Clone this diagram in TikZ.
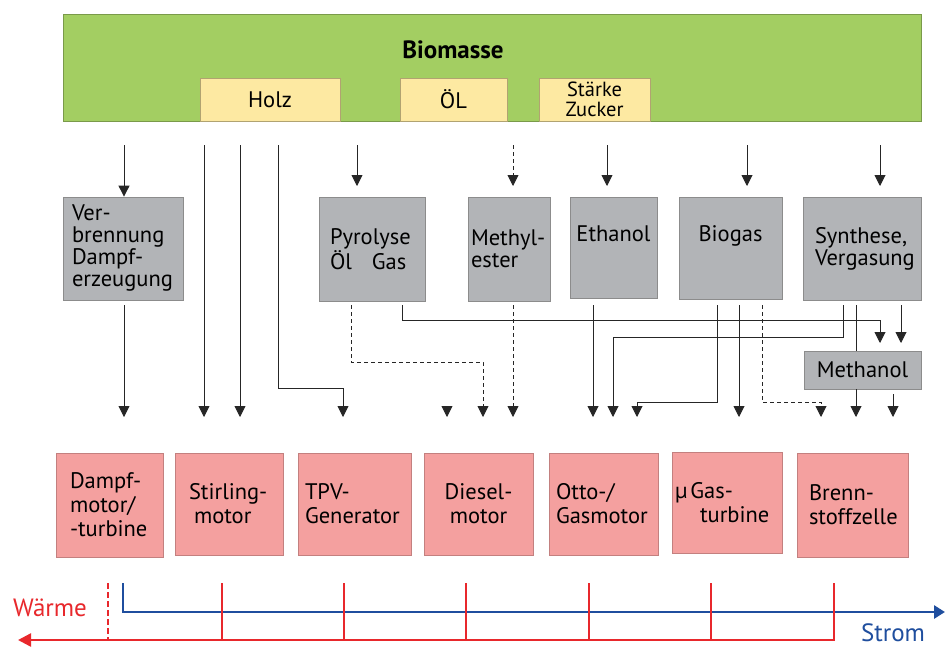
\documentclass[tikz,border=0pt]{standalone}
\usepackage{fontspec}
\setmainfont{PT Sans}
\usetikzlibrary{arrows.meta}
\definecolor{bgreen}{HTML}{A3CE62}
\definecolor{byellow}{HTML}{FDE9A2}
\definecolor{bgray}{HTML}{B2B4B7}
\definecolor{bpink}{HTML}{F4A09F}
\definecolor{bred}{HTML}{E8282C}
\definecolor{bblue}{HTML}{1F4E9E}
\begin{document}
\begin{tikzpicture}[x=1pt,y=-1pt,
  every node/.style={inner sep=0pt, font=\fontsize{22.5}{22}\selectfont},
  grbox/.style={draw=bgreen!75!black, fill=bgreen, line width=0.7pt},
  yebox/.style={draw=byellow!70!black, fill=byellow, line width=0.7pt},
  gybox/.style={draw=black!45, fill=bgray, line width=0.8pt},
  pkbox/.style={draw=bpink!80!black, fill=bpink, line width=0.7pt, font=\fontsize{22.5}{24}\selectfont},
  ln/.style={line width=0.9pt, draw=black!85},
  arr/.style={ln, -{Triangle[width=11pt,length=11pt]}},
  dsh/.style={dash pattern=on 4pt off 3pt},
  redl/.style={draw=bred, line width=2.4pt},
  bluel/.style={draw=bblue, line width=2.8pt},
  lbl/.style={font=\fontsize{25}{25}\selectfont}
]
\useasboundingbox (0,0) rectangle (945,649);
\fill[white] (0,0) rectangle (945,649);

% Biomasse
\node[grbox, minimum width=858pt, minimum height=107pt] (bio) at (492,67.5) {};
\node[font=\fontsize{25}{25}\selectfont\bfseries] (biot) at (453,50) {Biomasse};
\node[yebox, minimum width=140pt, minimum height=43pt] (holz) at (270,99.5) {Holz};
\node[yebox, minimum width=107pt, minimum height=43pt] (oel) at (453.5,99.5) {ÖL};
\node[yebox, minimum width=111pt, minimum height=43pt, align=center, font=\fontsize{20.5}{20}\selectfont] (staerke) at (594.5,99.5) {Stärke\\Zucker};

% gray boxes
\node[gybox, minimum width=120pt, minimum height=103pt, text width=102pt, align=left] (verb) at (123,248.5) {Ver-\\brennung\\Dampf-\\erzeugung};
\node[gybox, minimum width=106pt, minimum height=104pt, text width=84pt, align=left] (pyro) at (372,249) {Pyrolyse\\Öl\hspace{20pt}Gas};
\node[gybox, minimum width=82pt, minimum height=104pt, text width=76pt, align=left] (meth) at (509,249) {\mbox{Methyl-}\\ester};
\node[gybox, minimum width=87pt, minimum height=101pt, align=center] (eth) at (613.5,247.5) {Ethanol\\\strut};
\node[gybox, minimum width=103pt, minimum height=102pt, align=center] (biog) at (730.5,248) {Biogas\\\strut};
\node[gybox, minimum width=118pt, minimum height=103pt, text width=94pt, align=left] (synt) at (862,248.5) {Synthese,\\Vergasung};

% pink boxes
\node[pkbox, minimum width=107pt, minimum height=104pt, text width=79pt, align=left] (dampf) at (109.5,505) {\mbox{Dampf-}\\\mbox{motor/}\\\mbox{-turbine}};
\node[pkbox, minimum width=108pt, minimum height=102pt, text width=80pt, align=left] (stir) at (229,504) {\mbox{Stirling-}\\\hspace*{5pt}motor};
\node[pkbox, minimum width=113pt, minimum height=102pt, text width=99pt, align=left] (tpv) at (354.5,504) {\mbox{TPV-}\\Generator};
\node[pkbox, minimum width=109pt, minimum height=102pt, align=center] (dies) at (478.5,504) {\mbox{Diesel-}\\motor};
\node[pkbox, minimum width=109pt, minimum height=102pt, text width=95pt, align=left] (otto) at (603.5,504) {\mbox{Otto-/}\\Gasmotor};
\node[pkbox, minimum width=110pt, minimum height=101pt, text width=104pt, align=left] (gast) at (727,502.5) {\mbox{µ\hspace{3pt}Gas-}\\\hspace*{25pt}turbine};
\node[pkbox, minimum width=111pt, minimum height=104pt, text width=87pt, align=left] (brenn) at (852.5,505) {\mbox{Brenn-}\\stoffzelle};

% connectors from Biomasse
\draw[arr] (124,145) -- (verb.north -| 124,186);
\draw[arr] (357,145) -- (357,186);
\draw[arr, dsh] (513,145) -- (513,186);
\draw[arr] (607,145) -- (607,186);
\draw[arr] (747,145) -- (747,186);
\draw[arr] (880,145) -- (880,186);

% Holz direct
\draw[arr] (204,145) -- (204,417);
\draw[arr] (240,145) -- (240,417);
\draw[arr] (278,145) -- (278,388) -- (343,388) -- (343,417);

% from gray boxes
\draw[arr] (124,305) -- (124,417);
\draw[arr, dsh] (351,305) -- (351,362) -- (483,362) -- (483,417);
\draw[arr] (402,305) -- (402,320) -- (880,320) -- (880,343);
\draw[arr] (447,406) -- (447,417);
\draw[arr, dsh] (513,305) -- (513,417);
\draw[arr] (593,305) -- (593,417);
\draw[arr] (843,305) -- (843,337) -- (613,337) -- (613,417);
\draw[arr] (717,305) -- (717,402) -- (637,402) -- (637,417);
\draw[arr] (739,305) -- (739,417);
\draw[arr, dsh] (762,305) -- (762,402) -- (821,402) -- (821,417);
\draw[arr] (901,305) -- (901,343);
\draw[ln] (856,305) -- (856,351);

\node[gybox, minimum width=117pt, minimum height=38pt] (mnol) at (862.5,370) {Methanol};
\draw[arr] (mnol.south -| 856,389) -- (856,417);
\draw[arr] (893,394) -- (893,417);

% Strom / Waerme
\draw[bluel, -{Triangle[width=13pt,length=11pt]}] (123,583) -- (123,612) -- (945,612);
\draw[redl, -{Triangle[width=13pt,length=13pt]}] (834,583) -- (834,640) -- (18,640);
\foreach \xx in {222,344,466,589,711} \draw[redl] (\xx,583) -- (\xx,640);
\draw[redl, dash pattern=on 6pt off 3pt] (108,583) -- (108,640);
\node[lbl, text=bred] (waerme) at (50,608) {Wärme};
\node[lbl, text=bblue] (strom) at (893,633) {Strom};
\end{tikzpicture}
\end{document}
